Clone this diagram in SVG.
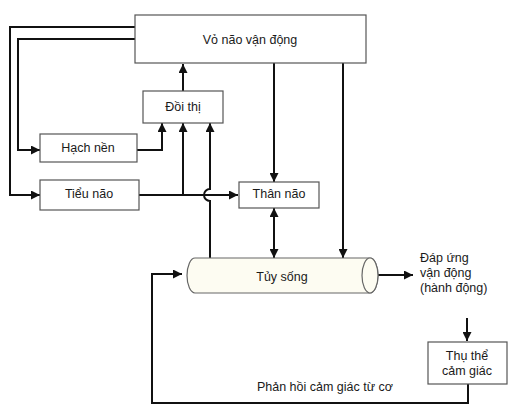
<svg xmlns="http://www.w3.org/2000/svg" width="510" height="408" viewBox="0 0 510 408">
<style>
.box{fill:#fff;stroke:#555;stroke-width:1.2}
.cyl{fill:#fdfcf2;stroke:#666;stroke-width:1.2}
.ln{fill:none;stroke:#111;stroke-width:2}
text{font-family:"Liberation Sans",Arial,sans-serif;font-size:12.5px;fill:#1a1a1a}
.c{text-anchor:middle}
</style>
<defs>
<marker id="arr" viewBox="0 0 10 10" refX="10" refY="5" markerWidth="10" markerHeight="9" markerUnits="userSpaceOnUse" orient="auto-start-reverse">
<path d="M0,0 L10,5 L0,10 z" fill="#111"/>
</marker>
</defs>
<rect width="510" height="408" fill="#fff"/>
<g id="connectors">
<path class="ln" d="M135,27 H10 V195 H40" marker-end="url(#arr)"/>
<path class="ln" d="M135,39 H18 V150 H40" marker-end="url(#arr)"/>
<path class="ln" d="M137,150 H162 V123" marker-end="url(#arr)"/>
<path class="ln" d="M139,195 H238" marker-end="url(#arr)"/>
<path class="ln" d="M183,195 V123" marker-end="url(#arr)"/>
<path class="ln" d="M210,258 V201 A6 6 0 0 1 210 189 V123" marker-end="url(#arr)"/>
<path class="ln" d="M183,91 V64" marker-end="url(#arr)"/>
<path class="ln" d="M274,63 V182" marker-end="url(#arr)"/>
<path class="ln" d="M343,63 V258" marker-end="url(#arr)"/>
<path class="ln" d="M274,208 V258" marker-start="url(#arr)" marker-end="url(#arr)"/>
<path class="ln" d="M372,275 H413" marker-end="url(#arr)"/>
<path class="ln" d="M467,318 V341" marker-end="url(#arr)"/>
<path class="ln" d="M468,384 V403 H152 V274 H182" marker-end="url(#arr)"/>
</g>
<g id="vo-nao">
<rect class="box" x="135" y="15" width="231" height="48"/>
<text class="c" x="250" y="44">Vỏ não vận động</text>
</g>
<g id="doi-thi">
<rect class="box" x="143" y="91" width="80" height="32"/>
<text class="c" x="183" y="111">Đồi thị</text>
</g>
<g id="hach-nen">
<rect class="box" x="40" y="134" width="97" height="28"/>
<text class="c" x="88" y="152">Hạch nền</text>
</g>
<g id="tieu-nao">
<rect class="box" x="40" y="180" width="99" height="30"/>
<text class="c" x="89" y="198">Tiểu não</text>
</g>
<g id="than-nao">
<rect class="box" x="239" y="182" width="80" height="26"/>
<text class="c" x="279" y="198">Thân não</text>
</g>
<g id="tuy-song">
<path class="cyl" d="M195,258 H370 A8 17.5 0 0 1 370 293 H195 A8 17.5 0 0 1 195 258 Z"/>
<ellipse class="cyl" cx="370" cy="275.5" rx="8" ry="17.5"/>
<text class="c" x="282" y="281">Tủy sống</text>
</g>
<g id="dap-ung">
<text x="420" y="262">Đáp ứng</text>
<text x="420" y="277">vận động</text>
<text x="420" y="292">(hành động)</text>
</g>
<g id="thu-the">
<rect class="box" x="428" y="342" width="79" height="42"/>
<text class="c" x="467" y="360">Thụ thể</text>
<text class="c" x="467" y="375">cảm giác</text>
</g>
<g id="phan-hoi">
<text class="c" x="325" y="391">Phản hồi cảm giác từ cơ</text>
</g>
</svg>
